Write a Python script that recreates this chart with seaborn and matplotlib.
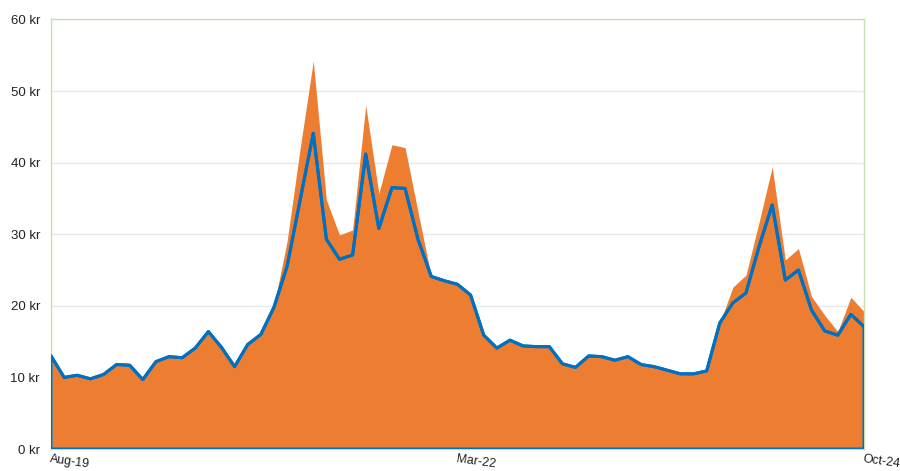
import numpy as np
import pandas as pd
import matplotlib
matplotlib.use('Agg')
import matplotlib.pyplot as plt
import seaborn as sns

# monthly series, Aug-19 .. Oct-24 (63 months)
months = pd.date_range('2019-08-01', '2024-10-01', freq='MS')
blue_vals = [13.0, 10.0, 10.3, 9.8, 10.4, 11.8, 11.7, 9.7, 12.2, 12.9,
             12.75, 14.1, 16.4, 14.2, 11.5, 14.6, 16.0, 19.8, 25.5, 34.8,
             44.1, 29.3, 26.5, 27.1, 41.2, 30.8, 36.5, 36.4, 29.2, 24.1,
             23.5, 23.0, 21.5, 15.9, 14.1, 15.2, 14.4, 14.3, 14.3, 11.9,
             11.4, 13.0, 12.9, 12.4, 12.9, 11.8, 11.5, 11.0, 10.5, 10.5,
             10.9, 17.6, 20.4, 21.8, 28.3, 34.1, 23.6, 25.0, 19.4, 16.5,
             15.9, 18.8, 17.1]
orange_vals = [13.0, 10.0, 10.3, 9.8, 10.4, 11.8, 11.7, 9.7, 12.2, 12.9,
               12.75, 14.1, 16.4, 14.2, 11.5, 14.6, 16.0, 20.0, 29.0, 42.0,
               54.2, 34.8, 29.9, 30.6, 48.0, 35.7, 42.5, 42.1, 33.0, 24.1,
               23.5, 23.0, 21.5, 15.9, 14.1, 15.2, 14.4, 14.3, 14.3, 11.9,
               11.4, 13.0, 12.9, 12.4, 12.9, 11.8, 11.5, 11.0, 10.5, 10.5,
               10.9, 17.6, 22.6, 24.3, 31.7, 39.4, 26.4, 28.0, 21.3, 18.7,
               16.4, 21.2, 19.2]
tick_labels = ['Aug-19', 'Mar-22', 'Oct-24']
y_ticks = [0, 10, 20, 30, 40, 50, 60]

df = pd.DataFrame({'idx': np.arange(len(months)), 'blue': blue_vals, 'orange': orange_vals})

sns.set_style('white')
plt.rcParams['font.family'] = ['Liberation Sans', 'DejaVu Sans']

ORANGE = '#ED7D31'
BLUE = '#0070C0'

fig = plt.figure(figsize=(9, 4.71), dpi=100)
ax = fig.add_axes([0.0567, 0.0467, 0.9033, 0.912])

ax.fill_between(df['idx'], df['orange'], color=ORANGE, lw=0, zorder=2)
ax.fill_between(df['idx'], df['blue'], facecolor='none', edgecolor=BLUE, lw=2.2, zorder=3)
sns.lineplot(data=df, x='idx', y='blue', color=BLUE, lw=2.2, ax=ax, zorder=4)

ax.set_xlim(0, len(months) - 1)
ax.set_ylim(0, 60)
ax.set_yticks(y_ticks)
ax.set_yticklabels([f'{v} kr' for v in y_ticks], fontsize=9.5, color='#222222')
ax.set_xticks([0, (len(months) - 1) // 2, len(months) - 1])
ax.set_xticklabels(tick_labels, fontsize=9, color='#222222', rotation=-8,
                   ha='left', rotation_mode='anchor')
ax.tick_params(axis='both', length=0)
ax.tick_params(axis='y', pad=8)
ax.tick_params(axis='x', pad=3)
ax.set_xlabel('')
ax.set_ylabel('')

ax.yaxis.grid(True, color='#e8e8e8', lw=1, zorder=0)
ax.set_axisbelow(True)
for s in ax.spines.values():
    s.set_color('#c5e0b4')
    s.set_linewidth(1)

fig.savefig('out.png', dpi=100)
